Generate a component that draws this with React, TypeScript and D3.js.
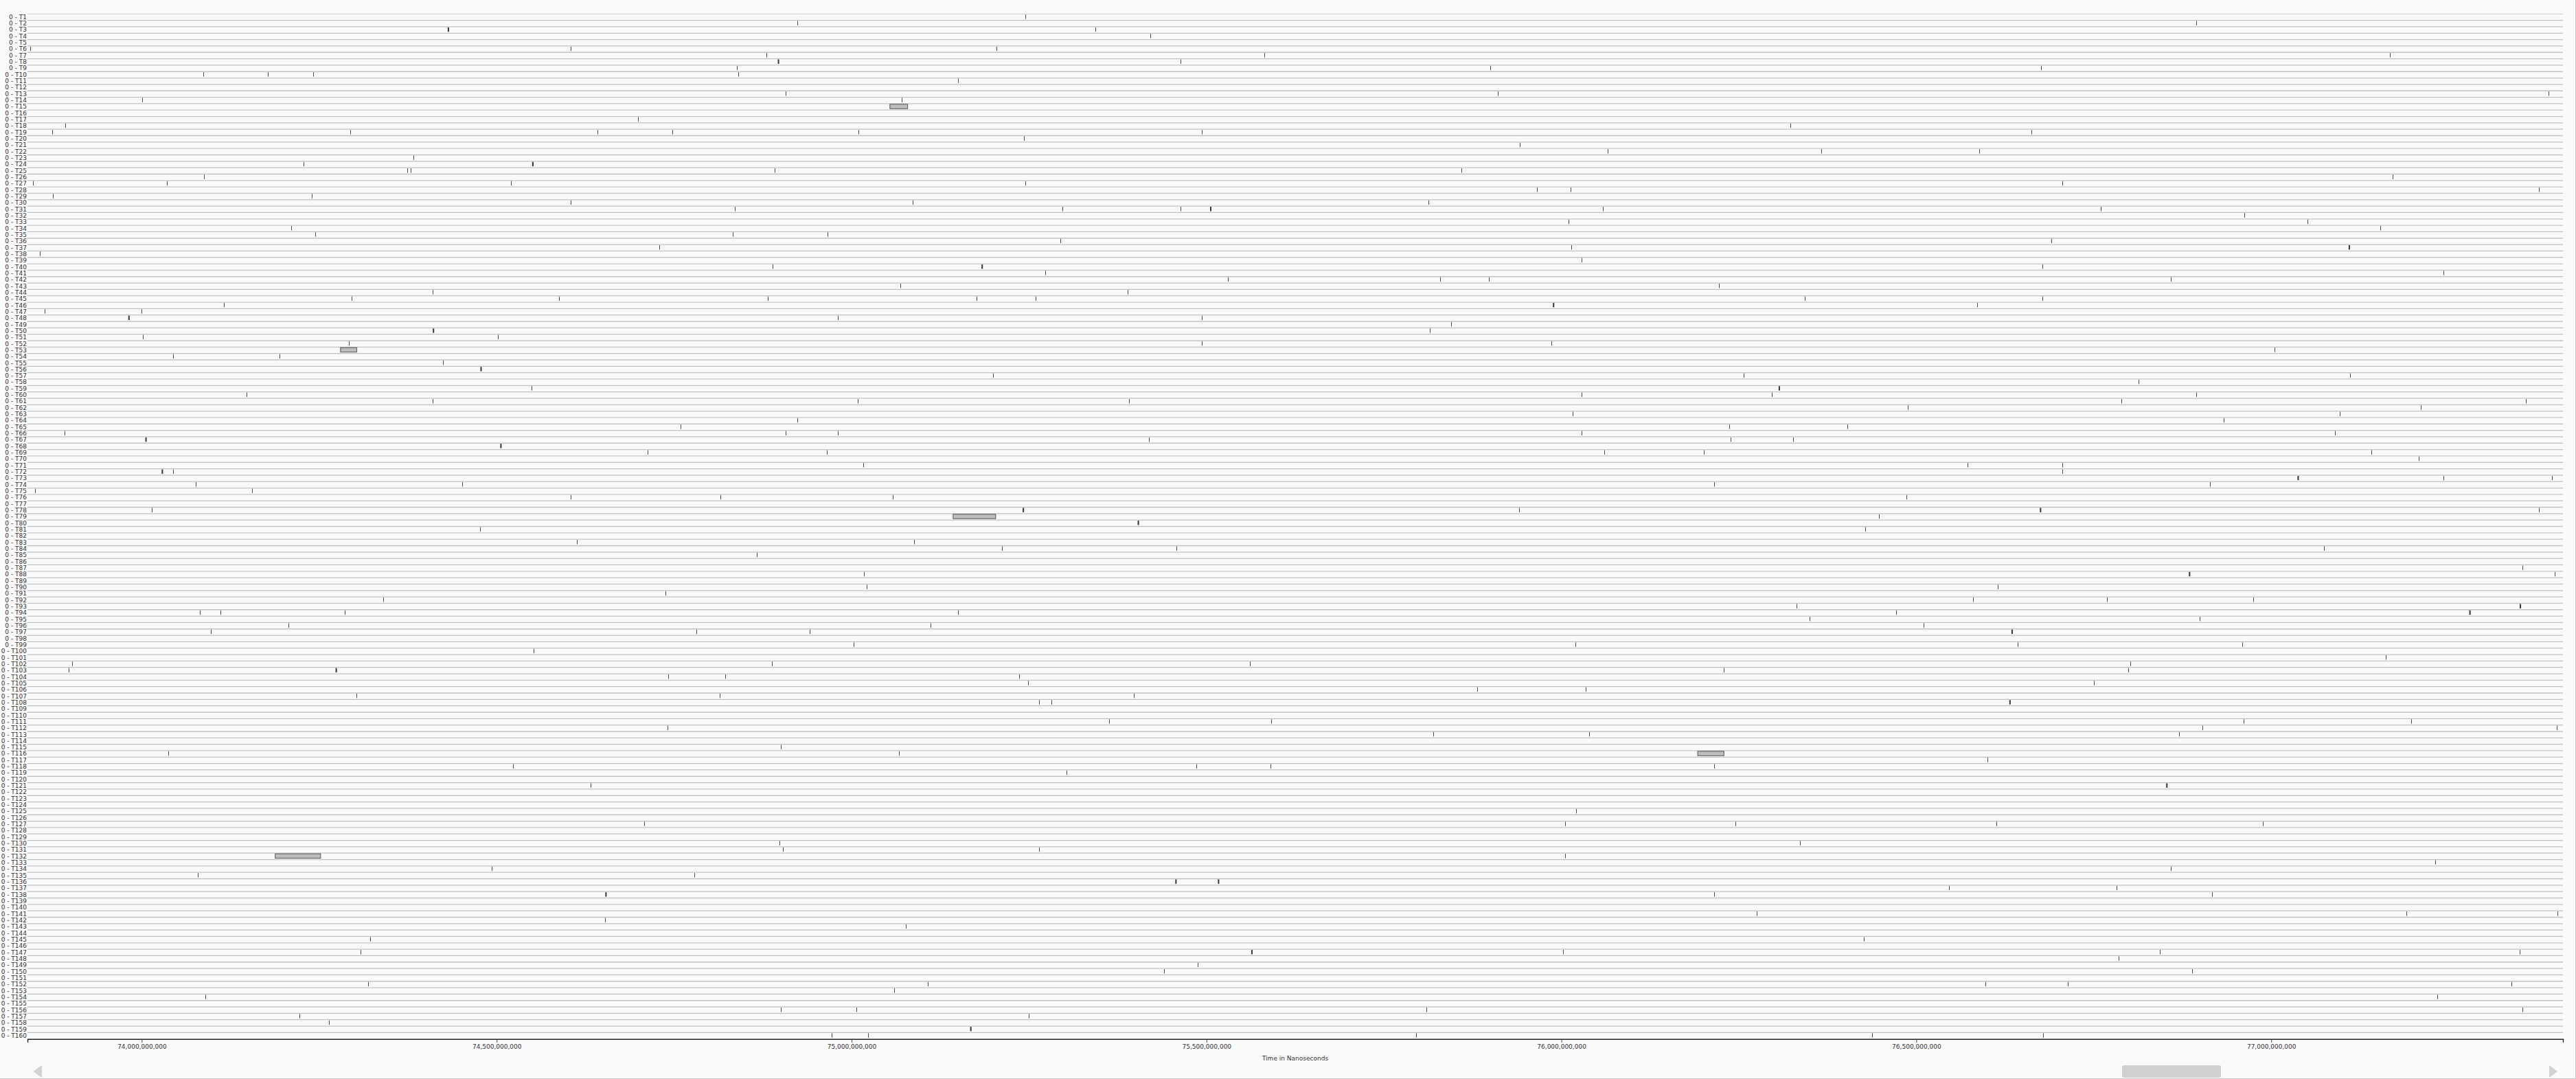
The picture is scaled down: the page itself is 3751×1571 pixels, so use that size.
import React, { useEffect, useRef } from 'react';
import * as d3 from 'd3';

const W = 3751;
const H = 1571;

const threads = d3.range(1, 161).map((i) => `0 - T${i}`);
const xTicks = [74e9, 74.5e9, 75e9, 75.5e9, 76e9, 76.5e9, 77e9];
const timeDomain = [73.839e9, 77.411e9];

// single events: [thread, time in ns]
const instants: [number, number][] = [
  [1, 75.245e9], [2, 74.924e9], [2, 76.894e9], [3, 75.343e9], [4, 75.421e9],
  [6, 73.843e9], [6, 74.604e9], [6, 75.204e9], [7, 74.88e9], [7, 75.581e9], [7, 77.167e9],
  [8, 75.463e9], [9, 74.838e9], [9, 75.9e9], [9, 76.676e9],
  [10, 74.087e9], [10, 74.178e9], [10, 74.241e9], [10, 74.84e9], [11, 75.15e9],
  [13, 74.907e9], [13, 75.91e9], [13, 77.391e9], [14, 74.001e9], [14, 75.071e9],
  [17, 74.699e9], [18, 73.892e9], [18, 76.323e9],
  [19, 73.874e9], [19, 74.294e9], [19, 74.642e9], [19, 74.747e9], [19, 75.01e9], [19, 75.493e9], [19, 76.662e9],
  [20, 75.243e9], [21, 75.941e9], [22, 76.065e9], [22, 76.366e9], [22, 76.589e9],
  [23, 74.383e9], [24, 74.228e9],
  [25, 74.374e9], [25, 74.379e9], [25, 74.892e9], [25, 75.859e9], [26, 74.088e9], [26, 77.171e9],
  [27, 73.847e9], [27, 74.035e9], [27, 74.52e9], [27, 75.245e9], [27, 76.706e9],
  [28, 75.966e9], [28, 76.013e9], [28, 77.377e9], [29, 73.875e9], [29, 74.24e9],
  [30, 74.604e9], [30, 75.086e9], [30, 75.813e9],
  [31, 74.836e9], [31, 75.297e9], [31, 75.463e9], [31, 76.058e9], [31, 76.76e9],
  [32, 76.962e9], [33, 76.01e9], [33, 77.051e9], [34, 74.211e9], [34, 77.154e9],
  [35, 74.244e9], [35, 74.833e9], [35, 74.966e9], [36, 75.294e9], [36, 76.69e9],
  [37, 74.729e9], [37, 76.014e9], [38, 73.856e9], [39, 76.028e9], [40, 74.889e9], [40, 76.678e9],
  [41, 75.273e9], [41, 77.243e9], [42, 75.53e9], [42, 75.829e9], [42, 75.898e9], [42, 76.859e9],
  [43, 75.069e9], [43, 76.222e9], [44, 74.41e9], [44, 75.389e9],
  [45, 74.296e9], [45, 74.588e9], [45, 74.882e9], [45, 75.176e9], [45, 75.259e9], [45, 76.343e9], [45, 76.678e9],
  [46, 74.116e9], [46, 76.586e9], [47, 73.863e9], [47, 74.0e9], [48, 74.981e9], [48, 75.493e9],
  [49, 75.845e9], [50, 75.815e9], [51, 74.002e9], [51, 74.502e9],
  [52, 74.292e9], [52, 75.493e9], [52, 75.986e9], [53, 77.005e9], [54, 74.044e9], [54, 74.194e9],
  [55, 74.424e9], [57, 75.199e9], [57, 76.257e9], [57, 77.111e9], [58, 76.813e9], [59, 74.549e9],
  [60, 74.148e9], [60, 76.028e9], [60, 76.296e9], [60, 76.894e9],
  [61, 74.41e9], [61, 75.009e9], [61, 75.391e9], [61, 76.789e9], [61, 77.359e9],
  [62, 76.488e9], [62, 77.211e9], [63, 76.016e9], [63, 77.097e9], [64, 74.924e9], [64, 76.933e9],
  [65, 74.759e9], [65, 76.236e9], [65, 76.403e9],
  [66, 73.891e9], [66, 74.907e9], [66, 74.981e9], [66, 76.028e9], [66, 77.09e9],
  [67, 75.419e9], [67, 76.238e9], [67, 76.326e9],
  [69, 74.713e9], [69, 74.965e9], [69, 76.06e9], [69, 76.201e9], [69, 77.141e9],
  [70, 77.208e9], [71, 75.016e9], [71, 76.572e9], [71, 76.706e9], [72, 74.044e9], [72, 76.706e9],
  [73, 77.243e9], [73, 77.396e9], [74, 74.076e9], [74, 74.451e9], [74, 76.215e9], [74, 76.914e9],
  [75, 73.85e9], [75, 74.155e9], [76, 74.604e9], [76, 74.815e9], [76, 75.058e9], [76, 76.486e9],
  [78, 74.014e9], [78, 75.94e9], [78, 77.377e9], [79, 76.447e9], [81, 74.477e9], [81, 76.428e9],
  [83, 74.613e9], [83, 75.088e9], [84, 75.212e9], [84, 75.458e9], [84, 77.074e9], [85, 74.866e9],
  [87, 77.354e9], [88, 75.017e9], [88, 77.399e9], [90, 75.021e9], [90, 76.615e9], [91, 74.738e9],
  [92, 74.34e9], [92, 76.58e9], [92, 76.769e9], [92, 76.975e9], [93, 76.331e9],
  [94, 74.082e9], [94, 74.111e9], [94, 74.286e9], [94, 75.15e9], [94, 76.472e9],
  [95, 76.35e9], [95, 76.899e9], [96, 74.207e9], [96, 75.111e9], [96, 76.51e9],
  [97, 74.097e9], [97, 74.781e9], [97, 74.941e9],
  [99, 75.003e9], [99, 76.02e9], [99, 76.643e9], [99, 76.959e9], [100, 74.552e9], [101, 77.161e9],
  [102, 73.902e9], [102, 74.888e9], [102, 75.561e9], [102, 76.801e9],
  [103, 73.897e9], [103, 76.229e9], [103, 76.799e9], [104, 74.742e9], [104, 74.822e9], [104, 75.236e9],
  [105, 75.249e9], [105, 76.75e9], [106, 75.881e9], [106, 76.034e9],
  [107, 74.302e9], [107, 74.814e9], [107, 75.398e9], [108, 75.264e9], [108, 75.282e9],
  [111, 75.363e9], [111, 75.591e9], [111, 76.961e9], [111, 77.197e9],
  [112, 74.741e9], [112, 76.903e9], [112, 77.402e9], [113, 75.819e9], [113, 76.039e9], [113, 76.87e9],
  [115, 74.9e9], [116, 74.037e9], [116, 75.067e9], [117, 76.6e9],
  [118, 74.523e9], [118, 75.486e9], [118, 75.59e9], [118, 76.215e9], [119, 75.303e9],
  [121, 74.632e9], [125, 76.021e9],
  [127, 74.708e9], [127, 76.005e9], [127, 76.245e9], [127, 76.613e9], [127, 76.988e9],
  [130, 74.898e9], [130, 76.336e9], [131, 74.903e9], [131, 75.264e9], [132, 76.005e9], [133, 77.231e9],
  [134, 74.493e9], [134, 76.859e9], [135, 74.079e9], [135, 74.778e9], [137, 76.546e9], [137, 76.782e9],
  [138, 76.215e9], [138, 76.917e9], [141, 76.275e9], [141, 77.19e9], [141, 77.403e9],
  [142, 74.653e9], [143, 75.076e9], [145, 74.322e9], [145, 76.426e9],
  [147, 74.308e9], [147, 76.002e9], [147, 76.843e9], [147, 77.35e9], [148, 76.785e9], [149, 75.488e9],
  [150, 75.44e9], [150, 76.889e9],
  [152, 74.319e9], [152, 75.107e9], [152, 76.597e9], [152, 76.713e9], [152, 77.338e9],
  [153, 75.06e9], [154, 74.09e9], [154, 77.234e9],
  [156, 74.9e9], [156, 75.007e9], [156, 75.81e9], [156, 77.354e9], [157, 74.222e9], [157, 75.25e9],
  [158, 74.264e9], [160, 74.972e9], [160, 75.023e9], [160, 75.795e9], [160, 76.438e9], [160, 76.679e9],
];

// events with a duration: [thread, start ns, end ns]
const intervals: [number, number, number][] = [
  [3, 74.431e9, 74.433e9], [8, 74.896e9, 74.898e9], [15, 75.054e9, 75.079e9], [24, 74.55e9, 74.552e9],
  [31, 75.505e9, 75.507e9], [37, 77.109e9, 77.111e9], [40, 75.183e9, 75.185e9], [46, 75.988e9, 75.99e9],
  [48, 73.981e9, 73.983e9], [50, 74.41e9, 74.412e9], [53, 74.28e9, 74.303e9], [56, 74.477e9, 74.479e9],
  [59, 76.306e9, 76.308e9], [67, 74.005e9, 74.007e9], [68, 74.505e9, 74.507e9], [72, 74.028e9, 74.03e9],
  [73, 77.037e9, 77.039e9], [78, 75.241e9, 75.243e9], [78, 76.674e9, 76.676e9], [79, 75.143e9, 75.203e9],
  [80, 75.403e9, 75.405e9], [88, 76.884e9, 76.886e9], [93, 77.35e9, 77.352e9], [94, 77.279e9, 77.281e9],
  [97, 76.634e9, 76.636e9], [103, 74.273e9, 74.275e9], [108, 76.631e9, 76.633e9], [116, 76.192e9, 76.229e9],
  [121, 76.852e9, 76.854e9], [132, 74.188e9, 74.252e9], [136, 75.456e9, 75.458e9], [136, 75.516e9, 75.518e9],
  [138, 74.653e9, 74.655e9], [147, 75.563e9, 75.565e9], [159, 75.167e9, 75.169e9],
];

const FONT = 'DejaVu Sans';

export default function App() {
  const axisRef = useRef<SVGGElement>(null);

  const left = 40;
  const right = 3732;
  const top = 20.3;
  const bottom = 1512.7;

  const x = d3.scaleLinear().domain(timeDomain).range([left, right]);
  const y = d3.scaleBand<string>().domain(threads).range([top, bottom]).padding(0);
  const bw = y.bandwidth();
  const rowY = (t: number) => y(threads[t - 1]) as number;

  useEffect(() => {
    document.body.style.margin = '0';
    document.body.style.background = '#fafafa';
    const g = d3.select(axisRef.current);
    g.call(
      d3
        .axisBottom(x)
        .tickValues(xTicks)
        .tickFormat(d3.format(','))
        .tickSize(5)
        .tickSizeOuter(5)
        .tickPadding(3)
    );
    g.select('.domain').attr('stroke', '#222').attr('stroke-width', 1.4);
    g.selectAll('.tick line').attr('stroke', '#444');
    g.selectAll('.tick text')
      .attr('fill', '#333')
      .attr('font-family', FONT)
      .attr('font-size', 9);
  }, []);

  return (
    <svg width={W} height={H} style={{ display: 'block' }}>
      <rect x={0} y={0} width={W} height={H} fill="#fafafa" />
      {/* row separators */}
      <line x1={left} x2={right} y1={top} y2={top} stroke="#d6d6d6" strokeWidth={1.2} />
      {threads.slice(0, -1).map((t) => (
        <line
          key={t}
          x1={left}
          x2={right}
          y1={(y(t) as number) + bw}
          y2={(y(t) as number) + bw}
          stroke="#c2c2c2"
          strokeWidth={1.3}
        />
      ))}
      {/* thread labels */}
      {threads.map((t) => (
        <text
          key={t}
          x={left - 1}
          y={(y(t) as number) + bw - 1.8}
          textAnchor="end"
          fontFamily={FONT}
          fontSize={9}
          fill="#333"
        >
          {t}
        </text>
      ))}
      {/* instant events */}
      {instants.map(([t, time], i) => (
        <rect
          key={`i${i}`}
          x={Math.round(x(time))}
          y={rowY(t) + 0.9}
          width={1}
          height={bw - 2.9}
          fill="#4a4a4a"
        />
      ))}
      {/* events with duration */}
      {intervals.map(([t, s, e], i) => {
        const x0 = x(s);
        const w = x(e) - x0;
        const wide = w > 4;
        return (
          <rect
            key={`d${i}`}
            x={x0}
            y={rowY(t) + 0.9}
            width={Math.max(w, 1)}
            height={bw - 2.9}
            fill={wide ? '#bdbdbd' : '#3a3a3a'}
            stroke={wide ? '#555' : 'none'}
            strokeWidth={1}
          />
        );
      })}
      <g ref={axisRef} transform={`translate(0,${bottom})`} />
      <text
        x={(left + right) / 2}
        y={1544}
        textAnchor="middle"
        fontFamily={FONT}
        fontSize={9}
        fill="#333"
      >
        Time in Nanoseconds
      </text>
      {/* scrollbar */}
      <path d="M61,1551 L48,1560 L61,1569 Z" fill="#d2d2d2" />
      <path d="M3712,1551 L3724,1560 L3712,1569 Z" fill="#d2d2d2" />
      <rect x={3090} y={1551} width={144} height={18} rx={3} fill="#d0d0d0" />
      <line x1={0} x2={W} y1={1570.5} y2={1570.5} stroke="#c8c8c8" />
      <line x1={3750.5} x2={3750.5} y1={0} y2={H} stroke="#c8c8c8" />
    </svg>
  );
}
